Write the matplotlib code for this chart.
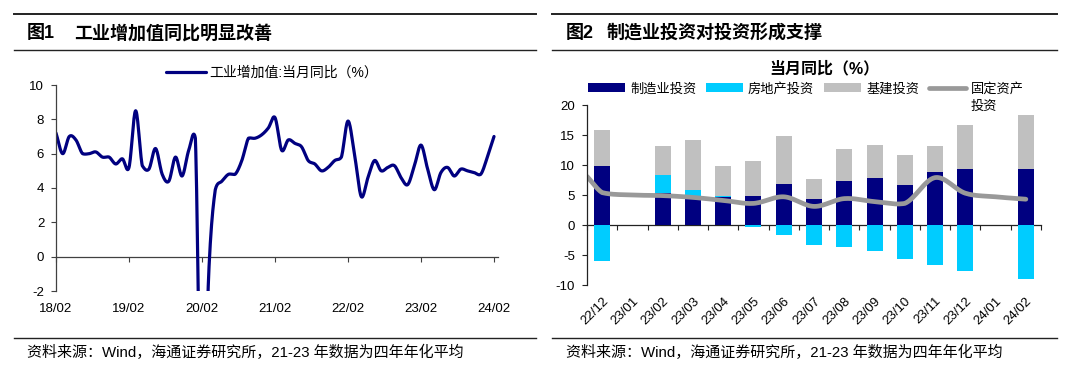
import numpy as np
import matplotlib
matplotlib.use('Agg')
import matplotlib.pyplot as plt
from matplotlib.lines import Line2D
from matplotlib.patches import Patch

plt.rcParams['font.family'] = ['Liberation Sans', 'Noto Sans CJK SC']
plt.rcParams['axes.unicode_minus'] = False

# ---------------- data: left chart (工业增加值:当月同比, Feb..Dec each year) -------------
iva_year_labels = ['18/02', '19/02', '20/02', '21/02', '22/02', '23/02', '24/02']
iva_2018 = [7.2, 6.0, 7.0, 6.8, 6.0, 6.0, 6.1, 5.8, 5.8, 5.4, 5.7]
iva_2019 = [5.2, 8.5, 5.3, 5.1, 6.3, 4.8, 4.4, 5.8, 4.7, 6.2, 6.9]
iva_2020 = [-13.5, -1.1, 3.9, 4.4, 4.8, 4.8, 5.6, 6.9, 6.9, 7.1, 7.5]
iva_2021 = [8.1, 6.2, 6.8, 6.6, 6.4, 5.6, 5.4, 5.0, 5.2, 5.6, 5.8]
iva_2022 = [7.9, 5.9, 3.5, 4.6, 5.6, 5.0, 5.2, 5.3, 4.6, 4.2, 5.3]
iva_2023 = [6.5, 5.1, 3.9, 4.9, 5.2, 4.7, 5.1, 5.0, 4.9, 4.8, 5.8]
iva_2024 = [7.0]

# ---------------- data: right chart (当月同比 %) ---------------------------------------
inv_months = ['22/12', '23/01', '23/02', '23/03', '23/04', '23/05', '23/06', '23/07',
              '23/08', '23/09', '23/10', '23/11', '23/12', '24/01', '24/02']
mfg_inv = [9.8, np.nan, 5.3, 4.4, 4.7, 4.8, 6.9, 4.3, 7.4, 7.8, 6.7, 8.9, 9.4, np.nan, 9.4]
re_inv = [-6.0, np.nan, 3.0, 1.4, 0.2, -0.4, -1.7, -3.3, -3.6, -4.3, -5.7, -6.6, -7.7, np.nan, -9.0]
infra_inv = [6.1, np.nan, 4.9, 8.4, 5.0, 5.9, 7.9, 3.4, 5.2, 5.6, 5.0, 4.2, 7.2, np.nan, 8.9]
fai_prev = 8.1   # value at the left edge of the plot
fai_inv = [5.4, 5.0, 4.9, 4.6, 4.1, 3.6, 4.7, 3.1, 4.4, 3.9, 3.6, 7.9, 5.3, 4.7, 4.3]

# ---------------- helpers ----------------------------------------------------------------
def smooth(x, y, n=16):
    """Catmull-Rom smoothing (like Excel's smoothed line), tangents limited per segment."""
    x = np.asarray(x, float)
    y = np.asarray(y, float)
    xp = np.concatenate([[2 * x[0] - x[1]], x, [2 * x[-1] - x[-2]]])
    yp = np.concatenate([[2 * y[0] - y[1]], y, [2 * y[-1] - y[-2]]])
    t = np.linspace(0, 1, n, endpoint=False)
    h00 = 2 * t**3 - 3 * t**2 + 1
    h10 = t**3 - 2 * t**2 + t
    h01 = -2 * t**3 + 3 * t**2
    h11 = t**3 - t**2
    xs, ys = [], []
    for i in range(1, len(xp) - 2):
        p0, p1, p2, p3 = yp[i - 1:i + 3]
        m1 = (p2 - p0) / 2
        m2 = (p3 - p1) / 2
        lim = 3 * max(abs(p2 - p1), 0.05)
        m1 = np.clip(m1, -lim, lim)
        m2 = np.clip(m2, -lim, lim)
        ys.append(h00 * p1 + h10 * m1 + h01 * p2 + h11 * m2)
        xs.append(xp[i] + t * (xp[i + 1] - xp[i]))
    xs.append([x[-1]])
    ys.append([y[-1]])
    return np.concatenate(xs), np.concatenate(ys)

W, H = 1080, 372
fig = plt.figure(figsize=(W / 100, H / 100), dpi=100)

def fx(px):
    return px / W

def fy(py):
    return 1 - py / H

NAVY = '#000080'
CYAN = '#00CCFF'
LGRAY = '#C0C0C0'
LINEGRAY = '#999999'
AXC = '#404040'
TICK_FS = 9.5
LEG_FS = 9.5

# ---------------- header / footer rules and texts ---------------------------------------
for (x0, x1) in [(13.5, 536), (552, 1057)]:
    fig.add_artist(Line2D([fx(x0), fx(x1)], [fy(13.8), fy(13.8)], color='#222222', lw=1.4))
    fig.add_artist(Line2D([fx(x0), fx(x1)], [fy(50), fy(50)], color='#222222', lw=1.0))
    fig.add_artist(Line2D([fx(x0), fx(x1)], [fy(338), fy(338)], color='#222222', lw=1.0))

TITLE_FS = 13
fig.text(fx(27), fy(33.5), '图1', fontsize=TITLE_FS, fontweight='bold', va='center', ha='left')
fig.text(fx(74), fy(33.5), '工业增加值同比明显改善', fontsize=TITLE_FS, fontweight='bold',
         va='center', ha='left')
fig.text(fx(566), fy(33.5), '图2', fontsize=TITLE_FS, fontweight='bold', va='center', ha='left')
fig.text(fx(607), fy(33.5), '制造业投资对投资形成支撑', fontsize=TITLE_FS, fontweight='bold',
         va='center', ha='left')

footer = '资料来源：Wind，海通证券研究所，21-23 年数据为四年年化平均'
fig.text(fx(27), fy(352), footer, fontsize=10.8, va='center', ha='left')
fig.text(fx(566), fy(352), footer, fontsize=10.8, va='center', ha='left')

# ---------------- left chart --------------------------------------------------------------
iva = iva_2018 + iva_2019 + iva_2020 + iva_2021 + iva_2022 + iva_2023 + iva_2024
idx = np.arange(len(iva))
ax1 = fig.add_axes([fx(56), fy(291), fx(442), (291 - 85) / H])
sx, sy = smooth(idx, iva)
ax1.plot(sx, sy, color=NAVY, lw=2.3, solid_capstyle='round', solid_joinstyle='round',
         label='工业增加值:当月同比（%）')
ax1.set_ylim(-2, 10)
ax1.set_xlim(0, 66.6)
ax1.set_yticks(np.arange(-2, 11, 2))
year_pos = np.arange(0, len(iva), 11)
ax1.set_xticks(year_pos)
ax1.set_xticklabels(iva_year_labels)
ax1.tick_params(axis='x', length=0, pad=9, labelsize=TICK_FS)
ax1.tick_params(axis='y', direction='out', length=3.5, width=0.8, color=AXC, pad=5,
                labelsize=TICK_FS)
for s in ['top', 'right', 'bottom']:
    ax1.spines[s].set_visible(False)
ax1.spines['left'].set_color(AXC)
ax1.spines['left'].set_linewidth(0.9)
sec1 = ax1.secondary_xaxis((0 - (-2)) / 12)
sec1.set_xticks(year_pos)
sec1.tick_params(axis='x', direction='out', length=3.5, width=0.8, color=AXC,
                 labelbottom=False, labeltop=False)
for sp in sec1.spines.values():
    sp.set_color(AXC)
    sp.set_linewidth(0.9)
ax1.legend(loc='center left', bbox_to_anchor=(fx(165.5), fy(73)), bbox_transform=fig.transFigure,
           frameon=False, borderpad=0, borderaxespad=0, handlelength=2.9, handletextpad=0.25,
           fontsize=10)

# ---------------- right chart -------------------------------------------------------------
x = np.arange(len(inv_months))
mfg = np.nan_to_num(np.array(mfg_inv, float))
re = np.nan_to_num(np.array(re_inv, float))
infra = np.nan_to_num(np.array(infra_inv, float))
re_pos = np.clip(re, 0, None)
re_neg = np.clip(re, None, 0)
bw = 0.53

ax2 = fig.add_axes([fx(587), fy(285), fx(1041 - 587), (285 - 105) / H])
b1 = ax2.bar(x, mfg, bw, color=NAVY, linewidth=0, label='制造业投资')
b2 = ax2.bar(x, re_pos, bw, bottom=mfg, color=CYAN, linewidth=0, label='房地产投资')
ax2.bar(x, re_neg, bw, color=CYAN, linewidth=0)
b3 = ax2.bar(x, infra, bw, bottom=mfg + re_pos, color=LGRAY, linewidth=0, label='基建投资')
lx, ly = smooth(np.concatenate([[-0.5], x]), [fai_prev] + fai_inv)
l4, = ax2.plot(lx, ly, color=LINEGRAY, lw=3.4, solid_capstyle='round', label='固定资产')
ax2.set_xlim(-0.5, len(x) - 0.5)
ax2.set_ylim(-10, 20)
ax2.set_yticks(np.arange(-10, 21, 5))
ax2.set_xticks(x)
ax2.set_xticklabels(inv_months, rotation=45, ha='right', va='top', rotation_mode='anchor')
ax2.tick_params(axis='x', length=0, pad=7, labelsize=TICK_FS)
ax2.tick_params(axis='y', direction='out', length=3.5, width=0.8, color='#222222', pad=5,
                labelsize=TICK_FS)
for s in ['top', 'right', 'bottom']:
    ax2.spines[s].set_visible(False)
ax2.spines['left'].set_color('#222222')
ax2.spines['left'].set_linewidth(0.9)
sec2 = ax2.secondary_xaxis(10 / 30)
sec2.set_xticks(np.arange(-0.5, len(x), 1.0))
sec2.tick_params(axis='x', direction='out', length=3.5, width=0.8, color='#222222',
                 labelbottom=False, labeltop=False)
for sp in sec2.spines.values():
    sp.set_color('#222222')
    sp.set_linewidth(0.9)

fig.text(fx(824), fy(69), '当月同比（%）', fontsize=11.5, fontweight='bold', ha='center',
         va='center')
leg2 = ax2.legend(handles=[b1, b2, b3, l4], loc='center left',
                  bbox_to_anchor=(fx(588), fy(89)), bbox_transform=fig.transFigure, ncol=4,
                  frameon=False, borderpad=0, borderaxespad=0, handlelength=2.8,
                  handletextpad=0.38, columnspacing=0.75, fontsize=LEG_FS)
fig.canvas.draw()
t4 = leg2.get_texts()[3]
bb = t4.get_window_extent()
fig.text(bb.x0 / W, fy(106.5), '投资', fontsize=LEG_FS, ha='left', va='center')

fig.savefig('out.png', dpi=100)
